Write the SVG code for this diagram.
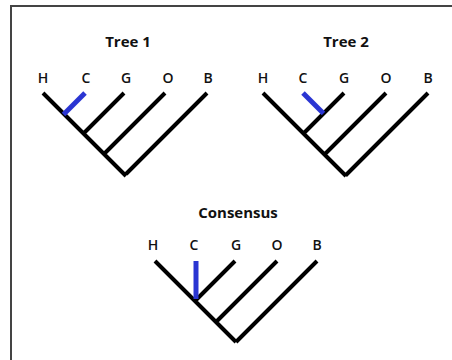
<svg xmlns="http://www.w3.org/2000/svg" width="452" height="360" viewBox="0 0 452 360">
<style>
.t{font-family:"Open Sans","Liberation Sans",sans-serif;font-weight:700;font-size:15px;fill:#111;text-anchor:middle}
.l{font-family:"Open Sans","Liberation Sans",sans-serif;font-weight:600;font-size:14px;fill:#111;text-anchor:middle}
.e{stroke:#000;stroke-width:4;fill:none;stroke-linecap:butt}
.b{stroke:#2a35d2;stroke-width:5;fill:none;stroke-linecap:butt}
</style>
<rect x="11" y="6" width="470" height="400" fill="#fff" stroke="#444" stroke-width="2"/>
<g id="tree1">
<text class="t" x="128" y="47">Tree 1</text>
<text class="l" x="43" y="83">H</text>
<text class="l" x="86" y="83">C</text>
<text class="l" x="126" y="83">G</text>
<text class="l" x="168" y="83">O</text>
<text class="l" x="208" y="83">B</text>
</g>
<g id="tree2">
<text class="t" x="346" y="47">Tree 2</text>
<text class="l" x="263" y="83">H</text>
<text class="l" x="303" y="83">C</text>
<text class="l" x="344" y="83">G</text>
<text class="l" x="386" y="83">O</text>
<text class="l" x="428" y="83">B</text>
</g>
<g id="consensus">
<text class="t" x="238" y="218">Consensus</text>
<text class="l" x="153" y="250">H</text>
<text class="l" x="194" y="250">C</text>
<text class="l" x="236" y="250">G</text>
<text class="l" x="277" y="250">O</text>
<text class="l" x="317" y="250">B</text>
</g>
<g id="connectors">
<path class="e" d="M43 93L126 176M124 93L83.5 133.5M165 93L104 154M207 93L126 174"/>
<path class="b" d="M85 93L63.5 114.5"/>
<path class="e" d="M263 93L346 176M344 93L303.5 133.5M386 93L324.5 154.5M428 93L345.5 175.5"/>
<path class="b" d="M303 93L323.5 113.5"/>
<path class="e" d="M155 261L236 342M235 261L195 301M277 261L216 322M317 261L236 342"/>
<path class="b" d="M196 261V299" stroke-width="7"/>
</g>
</svg>
